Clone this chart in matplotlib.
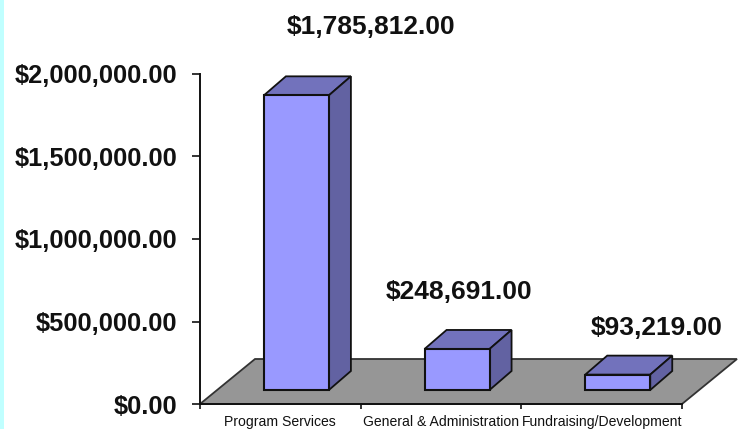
import matplotlib
matplotlib.use('Agg')
import matplotlib.pyplot as plt
from matplotlib.patches import Polygon, Rectangle
import numpy as np

categories = ['Program Services', 'General & Administration', 'Fundraising/Development']
values = [1785812, 248691, 93219]
value_labels = ['$1,785,812.00', '$248,691.00', '$93,219.00']
yticks = [0, 500000, 1000000, 1500000, 2000000]
ytick_labels = ['$0.00', '$500,000.00', '$1,000,000.00', '$1,500,000.00', '$2,000,000.00']

W, H = 741, 429
DARK = '#111111'
plt.rcParams['font.family'] = ['Liberation Sans', 'DejaVu Sans']

fig = plt.figure(figsize=(W / 100, H / 100), dpi=100, facecolor='white')
fig.add_artist(Rectangle((0, 0), 4 / W, 1, transform=fig.transFigure, color='#C0FFFF', lw=0))

ax = fig.add_axes([200 / W, (H - 404) / H, 482 / W, 330 / H])
ax.set_xlim(0, 3)
ax.set_ylim(0, 2000000)
ax.patch.set_visible(False)

# pixel sizes -> data units
xpx = 3 / 482
ypx = 2000000 / 330
floor_dx, floor_dy = 55 * xpx, 45 * ypx
lift = 14 * ypx
bar_w = 65 * xpx
bar_dx, bar_dy = 22 * xpx, 19 * ypx
xs = np.arange(3) + 0.6

floor = Polygon([(0, 0), (3, 0), (3 + floor_dx, floor_dy), (floor_dx, floor_dy)],
                facecolor='#969696', edgecolor='#333333', lw=1.3, clip_on=False, zorder=1)
ax.add_patch(floor)

ax.bar(xs, values, width=bar_w, bottom=lift, color='#9999FF', edgecolor=DARK, lw=1.5, zorder=3)
for x, v in zip(xs, values):
    l, r = x - bar_w / 2, x + bar_w / 2
    b, t = lift, lift + v
    ax.add_patch(Polygon([(l, t), (r, t), (r + bar_dx, t + bar_dy), (l + bar_dx, t + bar_dy)],
                         facecolor='#7272BC', edgecolor=DARK, lw=1.3, clip_on=False, zorder=2))
    ax.add_patch(Polygon([(r, b), (r + bar_dx, b + bar_dy), (r + bar_dx, t + bar_dy), (r, t)],
                         facecolor='#6262A2', edgecolor=DARK, lw=1.3, clip_on=False, zorder=2))

# label offsets from front top of bar, px
offsets = [(75, 68), (2, 57), (39, 47)]
for x, v, s, off in zip(xs, values, value_labels, offsets):
    ax.annotate(s, xy=(x, lift + v), xytext=off, textcoords='offset pixels',
                ha='center', va='center', fontsize=19, fontweight='bold',
                color='#111111', annotation_clip=False, zorder=5)

for side in ['top', 'right']:
    ax.spines[side].set_visible(False)
for side in ['left', 'bottom']:
    ax.spines[side].set_linewidth(1.4)
    ax.spines[side].set_color(DARK)
    ax.spines[side].set_zorder(4)

ax.set_yticks(yticks)
ax.set_yticklabels(ytick_labels, fontsize=18.3, fontweight='bold', color='#111111')
ax.tick_params(axis='y', length=5.8, width=1.2, color=DARK, pad=10.5)

ax.set_xticks([0, 1, 2, 3])
ax.set_xticklabels([])
ax.tick_params(axis='x', which='major', length=3.6, width=1.2, color=DARK)
ax.set_xticks([0.5, 1.5, 2.5], minor=True)
ax.set_xticklabels(categories, minor=True, fontsize=10.1, color='#111111')
ax.tick_params(axis='x', which='minor', length=0, pad=8)

fig.savefig('out.png', dpi=100)
